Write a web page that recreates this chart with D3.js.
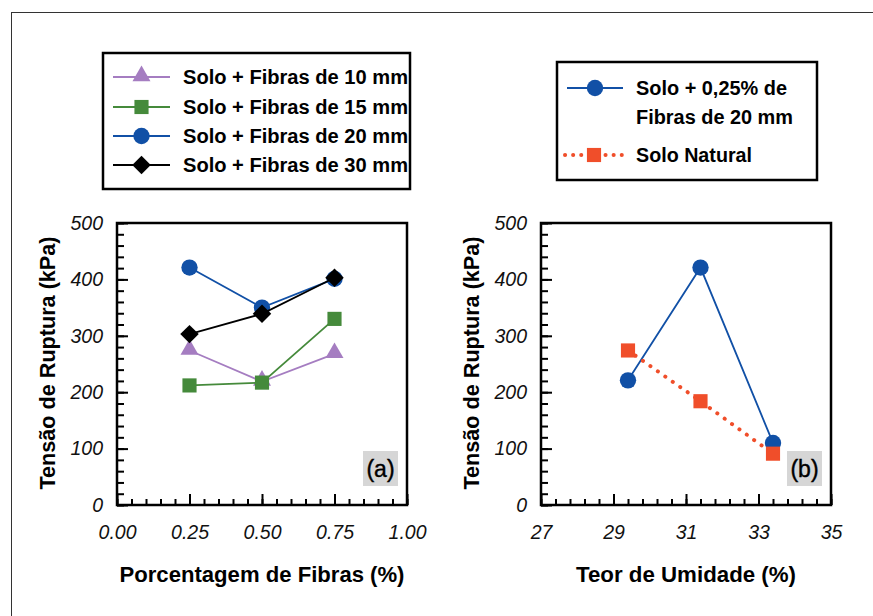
<!DOCTYPE html>
<html>
<head>
<meta charset="utf-8">
<script src="https://cdn.jsdelivr.net/npm/d3@7"></script>
<style>
  body { margin:0; background:#fff; }
  svg text { font-family:"Liberation Sans", Arial, sans-serif; }
</style>
</head>
<body>
<div id="canvas"></div>
<script>
// data
var fibraPct = [0.25, 0.50, 0.75];
var fib10 = [274, 219, 268];
var fib15 = [212, 217, 330];
var fib20 = [421, 350, 401];
var fib30 = [303, 339, 403];

var umidade = [29.4, 31.4, 33.4];
var soloFibra = [221, 421, 110];
var soloNatural = [274, 184, 91];

var yTicks = [0, 100, 200, 300, 400, 500];
var xTicksA = [0, 0.25, 0.5, 0.75, 1];
var xTicksB = [27, 29, 31, 33, 35];

var W = 873, H = 616;
var svg = d3.select('#canvas').append('svg')
    .attr('width', W).attr('height', H);

// outer frame of the figure
svg.append('rect')
    .attr('x', 11.5).attr('y', 12.5)
    .attr('width', 900).attr('height', 700)
    .attr('fill', 'none').attr('stroke', '#333').attr('stroke-width', 1);

var pw = 290, ph = 282, plotTop = 223;

function panel(left, xDomain, xTicks, xFmt, minorStep, xTitle, xTitleW, tag) {
    var g = svg.append('g').attr('transform', 'translate(' + left + ',' + plotTop + ')');
    var x = d3.scaleLinear().domain(xDomain).range([0, pw]);
    var y = d3.scaleLinear().domain([0, 500]).range([ph, 0]);

    // minor ticks
    g.append('g').attr('class', 'minor')
        .attr('transform', 'translate(0,' + ph + ')')
        .call(d3.axisBottom(x).tickValues(d3.range(xDomain[0], xDomain[1] + 1e-9, minorStep)).tickSize(-6).tickFormat(''));
    g.append('g').attr('class', 'minor')
        .call(d3.axisLeft(y).tickValues(d3.range(0, 501, 20)).tickSize(-7).tickFormat(''));

    // major ticks + labels
    g.append('g').attr('class', 'major')
        .attr('transform', 'translate(0,' + ph + ')')
        .call(d3.axisBottom(x).tickValues(xTicks).tickSize(-11).tickPadding(20).tickFormat(xFmt));
    g.append('g').attr('class', 'major')
        .call(d3.axisLeft(y).tickValues(yTicks).tickSize(-11).tickPadding(14).tickFormat(d3.format('d')));

    g.selectAll('.domain').remove();
    g.selectAll('.tick line').attr('stroke', '#000').attr('stroke-width', 2);
    g.selectAll('.major text')
        .attr('font-size', 19.5).attr('font-style', 'italic').attr('fill', '#111')
        .style('font-family', '"Liberation Sans", Arial, sans-serif');

    g.append('rect')
        .attr('width', pw).attr('height', ph)
        .attr('fill', 'none').attr('stroke', '#000').attr('stroke-width', 2.5);

    // panel tag
    g.append('rect')
        .attr('x', pw - 44).attr('y', 228).attr('width', 35).attr('height', 35)
        .attr('fill', '#d6d6d6');
    g.append('text')
        .attr('x', pw - 26.5).attr('y', 245.5).attr('dy', '0.35em')
        .attr('text-anchor', 'middle').attr('font-size', 23)
        .attr('stroke', '#000').attr('stroke-width', 0.4)
        .text(tag);

    // axis titles
    g.append('text')
        .attr('x', pw / 2).attr('y', 359)
        .attr('text-anchor', 'middle').attr('font-size', 22).attr('font-weight', 'bold')
        .attr('textLength', xTitleW).attr('lengthAdjust', 'spacingAndGlyphs')
        .text(xTitle);
    g.append('text')
        .attr('transform', 'translate(-62,' + (ph / 2 - 1) + ') rotate(-90)')
        .attr('text-anchor', 'middle').attr('font-size', 22).attr('font-weight', 'bold')
        .attr('textLength', 253).attr('lengthAdjust', 'spacingAndGlyphs')
        .text('Tensão de Ruptura (kPa)');

    return {g: g, x: x, y: y};
}

var fmt2 = d3.format('.2f');
var pa = panel(117, [0, 1], xTicksA, fmt2, 0.05, 'Porcentagem de Fibras (%)', 285, '(a)');
var pb = panel(541, [27, 35], xTicksB, d3.format('d'), 0.4, 'Teor de Umidade (%)', 220, '(b)');

// symbols
var sym = {
    tri: d3.symbol().type(d3.symbolTriangle).size(140),
    sq: d3.symbol().type(d3.symbolSquare).size(200),
    circ: d3.symbol().type(d3.symbolCircle).size(210),
    dia: d3.symbol().type(d3.symbolSquare).size(170)
};

function series(p, xs, ys, color, shape, dash) {
    var pts = xs.map(function(d, i) { return [d, ys[i]]; });
    var line = d3.line()
        .x(function(d) { return p.x(d[0]); })
        .y(function(d) { return p.y(d[1]); });
    var path = p.g.append('path')
        .datum(pts)
        .attr('d', line)
        .attr('fill', 'none')
        .attr('stroke', color);
    if (dash) {
        path.attr('stroke-width', 4).attr('stroke-dasharray', '0.1 9').attr('stroke-linecap', 'round');
    } else {
        path.attr('stroke-width', 1.8);
    }
    p.g.selectAll(null)
        .data(pts).enter()
        .append('path')
        .attr('d', sym[shape])
        .attr('transform', function(d) {
            var t = 'translate(' + p.x(d[0]) + ',' + p.y(d[1]) + ')';
            if (shape === 'dia') t += ' rotate(45)';
            if (shape === 'tri') t += ' translate(0,-1)';
            return t;
        })
        .attr('fill', color);
}

var cPurple = '#a57dc1', cGreen = '#458a3b', cBlue = '#1150a6', cBlack = '#000', cRed = '#f04e2a';

series(pa, fibraPct, fib10, cPurple, 'tri');
series(pa, fibraPct, fib15, cGreen, 'sq');
series(pa, fibraPct, fib20, cBlue, 'circ');
series(pa, fibraPct, fib30, cBlack, 'dia');

series(pb, umidade, soloFibra, cBlue, 'circ');
series(pb, umidade, soloNatural, cRed, 'sq', true);

// legends
function legendBox(x0, y0, w, h) {
    svg.append('rect')
        .attr('x', x0).attr('y', y0).attr('width', w).attr('height', h)
        .attr('fill', '#fff').attr('stroke', '#000').attr('stroke-width', 2.5);
}

function legendKey(x0, x1, yc, color, shape, dash) {
    var l = svg.append('line')
        .attr('x1', x0).attr('x2', x1).attr('y1', yc).attr('y2', yc)
        .attr('stroke', color);
    if (dash) {
        l.attr('stroke-width', 4).attr('stroke-dasharray', '0.1 8').attr('stroke-linecap', 'round');
    } else {
        l.attr('stroke-width', 2);
    }
    var xm = (x0 + x1) / 2;
    svg.append('path')
        .attr('d', sym[shape])
        .attr('transform', 'translate(' + xm + ',' + yc + ')' + (shape === 'dia' ? ' rotate(45)' : '') + (shape === 'tri' ? ' translate(0,-1)' : ''))
        .attr('fill', color);
}

function legendText(x, yc, txt, w) {
    svg.append('text')
        .attr('x', x).attr('y', yc).attr('dy', '0.35em')
        .attr('font-size', 20).attr('font-weight', 'bold')
        .attr('textLength', w).attr('lengthAdjust', 'spacingAndGlyphs')
        .text(txt);
}

var leg1Names = ['Solo + Fibras de 10 mm', 'Solo + Fibras de 15 mm', 'Solo + Fibras de 20 mm', 'Solo + Fibras de 30 mm'];
var leg1Colors = [cPurple, cGreen, cBlue, cBlack];
var leg1Shapes = ['tri', 'sq', 'circ', 'dia'];
var leg1Y = [77, 107, 136, 165];

legendBox(103, 53, 307, 136);
leg1Names.forEach(function(n, i) {
    legendKey(113, 170, leg1Y[i], leg1Colors[i], leg1Shapes[i]);
    legendText(183, leg1Y[i], n, 225);
});

legendBox(557, 62, 260, 118);
legendKey(567, 623, 88, cBlue, 'circ');
legendText(636, 88, 'Solo + 0,25% de', 151);
legendText(636, 117, 'Fibras de 20 mm', 157);
legendKey(565, 623, 155, cRed, 'sq', true);
legendText(636, 155, 'Solo Natural', 116);
</script>
</body>
</html>
